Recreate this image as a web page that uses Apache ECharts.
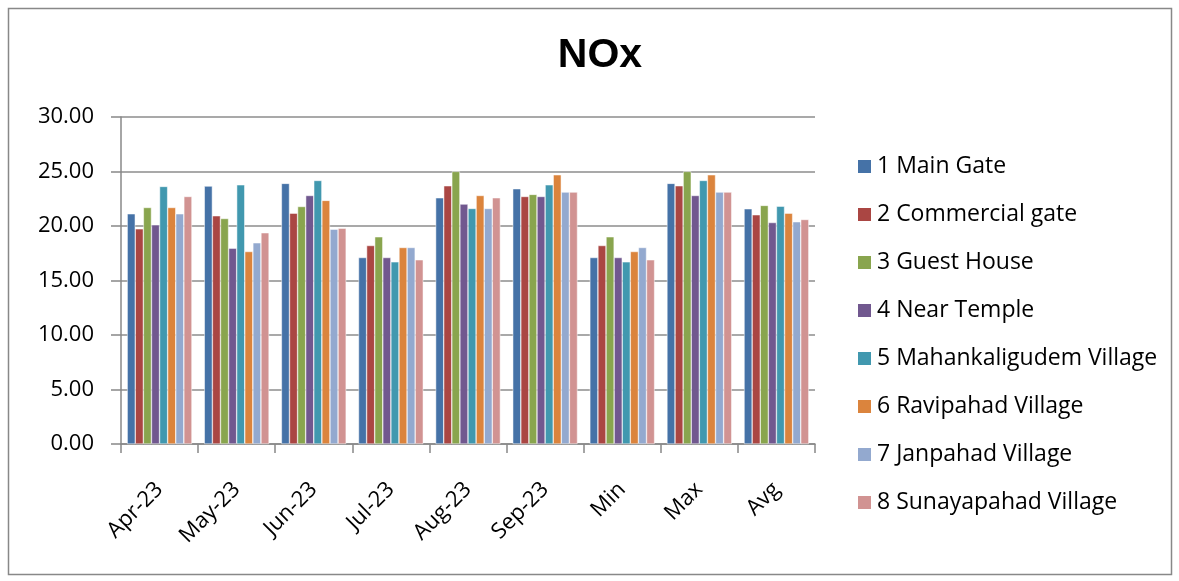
<!DOCTYPE html>
<html>
<head>
<meta charset="utf-8">
<script src="https://cdn.jsdelivr.net/npm/echarts@6/dist/echarts.min.js"></script>
<style>
  body { margin: 0; background: #fff; }
  #chart { width: 1179px; height: 581px; }
</style>
</head>
<body>
<div id="chart"></div>
<script>
var categories = ['Apr-23', 'May-23', 'Jun-23', 'Jul-23', 'Aug-23', 'Sep-23', 'Min', 'Max', 'Avg']
var seriesNames = ['1 Main Gate', '2 Commercial gate', '3 Guest House', '4 Near Temple',
  '5 Mahankaligudem Village', '6 Ravipahad Village', '7 Janpahad Village', '8 Sunayapahad Village']

var mainGate = [21.12, 23.66, 23.91, 17.11, 22.59, 23.42, 17.11, 23.91, 21.58]
var commercialGate = [19.74, 20.94, 21.18, 18.21, 23.69, 22.71, 18.21, 23.69, 21.03]
var guestHouse = [21.70, 20.69, 21.79, 19.01, 25.01, 22.90, 19.01, 25.01, 21.89]
var nearTemple = [20.11, 17.97, 22.80, 17.11, 22.01, 22.71, 17.11, 22.80, 20.32]
var mahankaligudem = [23.63, 23.78, 24.18, 16.71, 21.61, 23.78, 16.71, 24.18, 21.82]
var ravipahad = [21.70, 17.66, 22.35, 18.03, 22.80, 24.70, 17.66, 24.70, 21.18]
var janpahad = [21.12, 18.46, 19.71, 18.03, 21.61, 23.11, 18.03, 23.11, 20.39]
var sunayapahad = [22.71, 19.38, 19.80, 16.90, 22.59, 23.11, 16.90, 23.11, 20.60]

var yTicks = { min: 0, max: 30, interval: 5 }

var colors = ['#4572A7', '#AA4643', '#89A54E', '#71588F', '#4198AF', '#DB843D', '#93A9CF', '#D19392']
var allData = [mainGate, commercialGate, guestHouse, nearTemple, mahankaligudem, ravipahad, janpahad, sunayapahad]

var font = '"Open Sans", sans-serif'
var chart = echarts.init(document.getElementById('chart'))

var series = allData.map(function(d, i) {
  return {
    name: seriesNames[i],
    type: 'bar',
    data: d,
    barGap: '0%',
    barCategoryGap: '16%',
    itemStyle: { color: colors[i], borderColor: '#fff', borderWidth: 0.5 }
  }
})

chart.setOption({
  animation: false,
  color: colors,
  title: {
    text: 'NOx',
    left: 595,
    textAlign: 'center',
    top: 30,
    textStyle: { fontFamily: '"Liberation Sans", Arial, sans-serif', fontSize: 41, fontWeight: 'bold', color: '#000' }
  },
  graphic: [{
    type: 'rect',
    shape: { x: 8.5, y: 8.5, width: 1163, height: 566 },
    style: { fill: 'none', stroke: '#888', lineWidth: 1.5 },
    silent: true
  }],
  legend: {
    orient: 'vertical',
    left: 851,
    top: 150,
    itemWidth: 15,
    itemHeight: 15,
    itemGap: 25,
    icon: 'rect',
    textStyle: { fontFamily: font, fontSize: 23, lineHeight: 23, color: '#000' },
    data: seriesNames
  },
  grid: { left: 121, right: 364, top: 117, bottom: 137 },
  xAxis: {
    type: 'category',
    data: categories,
    axisLine: { lineStyle: { color: '#888', width: 1.5 } },
    axisTick: { show: true, length: 9, lineStyle: { color: '#888', width: 1.5 } },
    axisLabel: { rotate: 45, fontFamily: font, fontSize: 22, color: '#000', margin: 42 }
  },
  yAxis: {
    type: 'value',
    min: yTicks.min,
    max: yTicks.max,
    interval: yTicks.interval,
    axisLine: { show: true, lineStyle: { color: '#888', width: 1.5 } },
    axisTick: { show: true, length: 10, lineStyle: { color: '#888', width: 1.5 } },
    splitLine: { lineStyle: { color: '#8c8c8c', width: 1.5 } },
    axisLabel: {
      fontFamily: font, fontSize: 22, color: '#000', margin: 27,
      formatter: function(v) { return v.toFixed(2) }
    }
  },
  series: series
})
</script>
</body>
</html>
